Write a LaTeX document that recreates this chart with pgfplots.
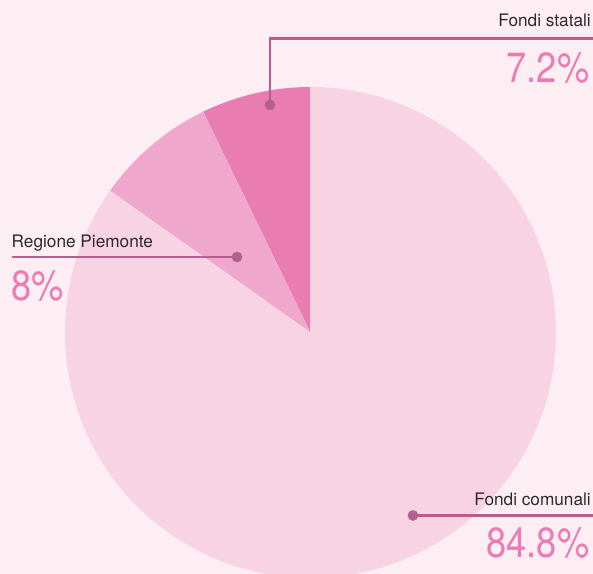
\documentclass[border=0pt]{standalone}
\usepackage{pgfplots}
\pgfplotsset{compat=1.18}
\usepackage{pgfplotstable}
\usepackage{fontspec}
\setmainfont{TeX Gyre Heros}
\newfontfamily\numfont[FakeStretch=0.86]{TeX Gyre Heros}
\definecolor{bgc}{HTML}{FCEEF3}
\definecolor{sliceL}{HTML}{F7D3E3}
\definecolor{sliceM}{HTML}{EFA8CB}
\definecolor{sliceD}{HTML}{E97CB0}
\definecolor{leader}{HTML}{B65E8C}
\definecolor{numc}{HTML}{ED7BB3}
\definecolor{txtc}{HTML}{2B2B2B}
\pgfplotstableread{
share
7.2
8
84.8
}\piedata
\begin{document}
\begin{tikzpicture}
\pgfplotstablegetelem{0}{share}\of\piedata \let\vA\pgfplotsretval
\pgfplotstablegetelem{1}{share}\of\piedata \let\vB\pgfplotsretval
\pgfmathsetmacro\aA{90+3.6*\vA}
\pgfmathsetmacro\aB{\aA+3.6*\vB}
\begin{axis}[
  name=ax,
  x=1cm, y=1cm,
  xmin=0, xmax=5.93, ymin=0, ymax=5.74,
  enlargelimits=false,
  axis lines=none, ticks=none,
  axis background/.style={fill=bgc},
  clip=true,
]
% pie slices (angles from the table values)
\fill[sliceD] (axis cs:3.105,2.415) -- ++(90:2.455) arc[start angle=90, end angle=\aA, radius=2.455] -- cycle;
\fill[sliceM] (axis cs:3.105,2.415) -- ++(\aA:2.455) arc[start angle=\aA, end angle=\aB, radius=2.455] -- cycle;
\fill[sliceL] (axis cs:3.105,2.415) -- ++(\aB:2.455) arc[start angle=\aB, end angle=450, radius=2.455] -- cycle;
% leader lines
\addplot[leader, line width=0.6pt, mark=*, mark size=1.2pt, mark indices={1}] coordinates {(2.70,4.69) (2.70,5.355) (5.95,5.355)};
\addplot[leader, line width=0.6pt, mark=*, mark size=1.2pt, mark indices={1}] coordinates {(2.37,3.17) (0.12,3.17)};
\addplot[leader, line width=0.6pt, mark=*, mark size=1.2pt, mark indices={1}] coordinates {(4.13,0.585) (5.95,0.585)};
% labels
\node[anchor=base east, inner sep=0pt, text=txtc, font=\fontsize{4.9pt}{6pt}\selectfont] at (axis cs:5.915,5.475) {Fondi statali};
\node[anchor=base east, inner sep=0pt, text=numc, font=\numfont\fontsize{12pt}{14pt}\selectfont] at (axis cs:5.90,4.91) {7.2\%};
\node[anchor=base west, inner sep=0pt, text=txtc, font=\fontsize{4.9pt}{6pt}\selectfont] at (axis cs:0.11,3.26) {Regione Piemonte};
\node[anchor=base west, inner sep=0pt, text=numc, font=\numfont\fontsize{12pt}{14pt}\selectfont] at (axis cs:0.11,2.73) {8\%};
\node[anchor=base east, inner sep=0pt, text=txtc, font=\fontsize{4.9pt}{6pt}\selectfont] at (axis cs:5.915,0.68) {Fondi comunali};
\node[anchor=base east, inner sep=0pt, text=numc, font=\numfont\fontsize{12pt}{14pt}\selectfont] at (axis cs:5.90,0.16) {84.8\%};
\end{axis}
\pgfresetboundingbox
\useasboundingbox (ax.south west) rectangle (ax.north east);
\end{tikzpicture}
\end{document}
